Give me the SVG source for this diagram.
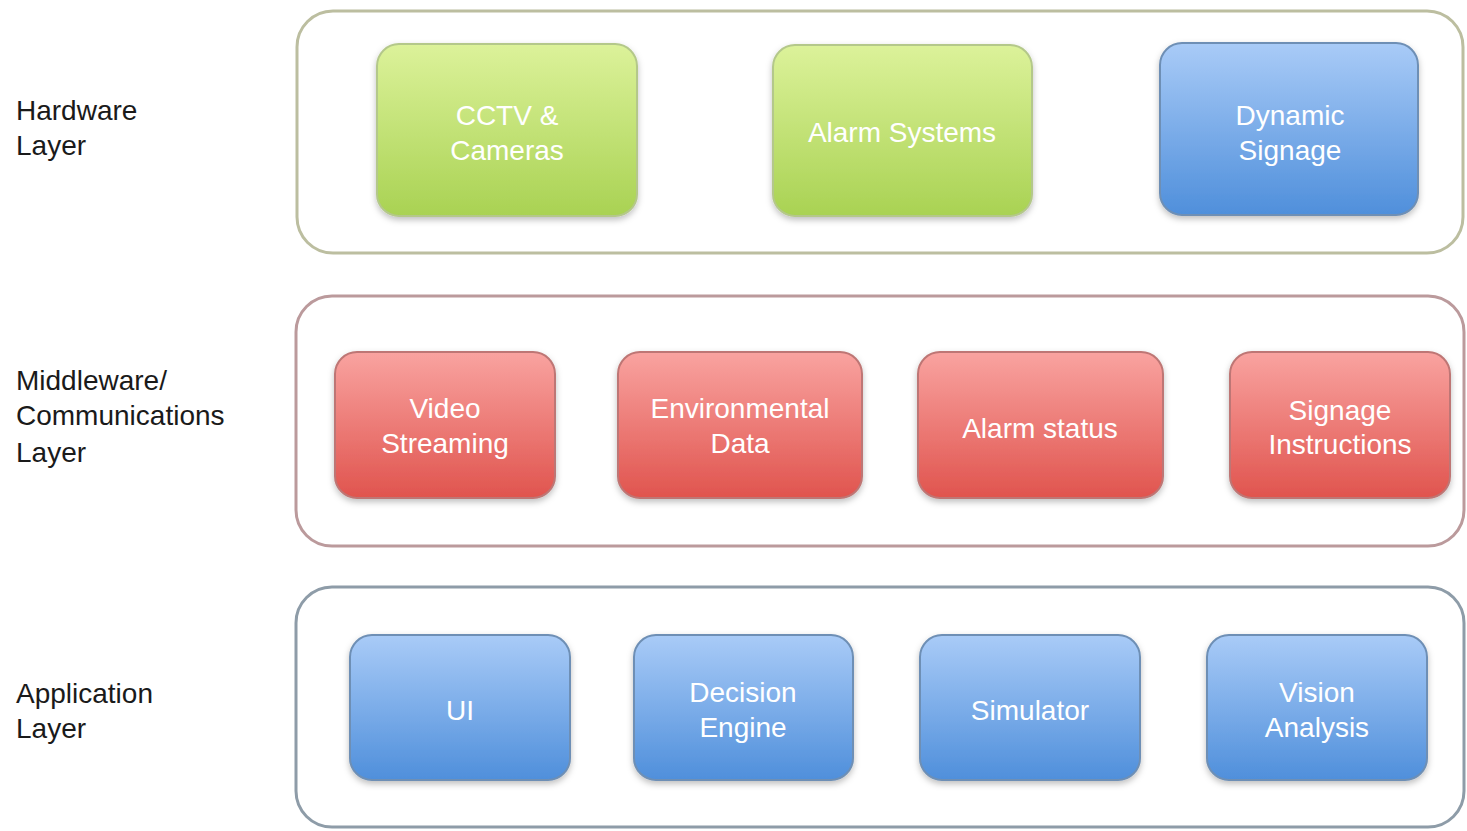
<svg xmlns="http://www.w3.org/2000/svg" width="1467" height="831" viewBox="0 0 1467 831">
<defs>
<linearGradient id="gGreen" x1="0" y1="0" x2="0" y2="1">
<stop offset="0" stop-color="#dcf29a"/><stop offset="1" stop-color="#a9d253"/>
</linearGradient>
<linearGradient id="gBlue" x1="0" y1="0" x2="0" y2="1">
<stop offset="0" stop-color="#a9cbf7"/><stop offset="1" stop-color="#4f8fdb"/>
</linearGradient>
<linearGradient id="gRed" x1="0" y1="0" x2="0" y2="1">
<stop offset="0" stop-color="#f9a3a0"/><stop offset="1" stop-color="#e0544e"/>
</linearGradient>
<filter id="shadow" x="-10%" y="-10%" width="120%" height="130%">
<feDropShadow dx="0" dy="3" stdDeviation="3" flood-color="#000" flood-opacity="0.25"/>
</filter>
</defs>
<style>
.layer{fill:#fff;stroke-width:3}
.hw{stroke:#bcbea0}
.mw{stroke:#bb9a9c}
.app{stroke:#8e9ca8}
.box{stroke-width:2;filter:url(#shadow)}
.green{fill:url(#gGreen);stroke:#b4c88a}
.blue{fill:url(#gBlue);stroke:#6e8fb5}
.red{fill:url(#gRed);stroke:#be7674}
.lbl{font-family:"Liberation Sans",Arial,sans-serif;font-size:28px;fill:#1a1a1a}
.t{font-family:"Liberation Sans",Arial,sans-serif;font-size:28px;fill:#ffffff;text-anchor:middle}
</style>
<rect width="1467" height="831" fill="#ffffff"/>

<g id="labels">
<text class="lbl" x="16" y="120">Hardware</text>
<text class="lbl" x="16" y="155">Layer</text>
<text class="lbl" x="16" y="390">Middleware/</text>
<text class="lbl" x="16" y="425">Communications</text>
<text class="lbl" x="16" y="462">Layer</text>
<text class="lbl" x="16" y="703">Application</text>
<text class="lbl" x="16" y="738">Layer</text>
</g>

<g id="hardware-layer">
<rect class="layer hw" x="297" y="11" width="1166" height="242" rx="36"/>
</g>
<g id="middleware-layer">
<rect class="layer mw" x="296" y="296" width="1168" height="250" rx="36"/>
</g>
<g id="application-layer">
<rect class="layer app" x="296" y="587" width="1168" height="240" rx="36"/>
</g>

<g id="cctv">
<rect class="box green" x="377" y="44" width="260" height="172" rx="22"/>
<text class="t" x="507" y="125">CCTV &amp;</text>
<text class="t" x="507" y="160">Cameras</text>
</g>
<g id="alarm-systems">
<rect class="box green" x="773" y="45" width="259" height="171" rx="22"/>
<text class="t" x="902" y="142">Alarm Systems</text>
</g>
<g id="dynamic-signage">
<rect class="box blue" x="1160" y="43" width="258" height="172" rx="22"/>
<text class="t" x="1290" y="125">Dynamic</text>
<text class="t" x="1290" y="160">Signage</text>
</g>

<g id="video-streaming">
<rect class="box red" x="335" y="352" width="220" height="146" rx="22"/>
<text class="t" x="445" y="418">Video</text>
<text class="t" x="445" y="453">Streaming</text>
</g>
<g id="environmental-data">
<rect class="box red" x="618" y="352" width="244" height="146" rx="22"/>
<text class="t" x="740" y="418">Environmental</text>
<text class="t" x="740" y="453">Data</text>
</g>
<g id="alarm-status">
<rect class="box red" x="918" y="352" width="245" height="146" rx="22"/>
<text class="t" x="1040" y="438">Alarm status</text>
</g>
<g id="signage-instructions">
<rect class="box red" x="1230" y="352" width="220" height="146" rx="22"/>
<text class="t" x="1340" y="420">Signage</text>
<text class="t" x="1340" y="454">Instructions</text>
</g>

<g id="ui">
<rect class="box blue" x="350" y="635" width="220" height="145" rx="22"/>
<text class="t" x="460" y="720">UI</text>
</g>
<g id="decision-engine">
<rect class="box blue" x="634" y="635" width="219" height="145" rx="22"/>
<text class="t" x="743" y="702">Decision</text>
<text class="t" x="743" y="737">Engine</text>
</g>
<g id="simulator">
<rect class="box blue" x="920" y="635" width="220" height="145" rx="22"/>
<text class="t" x="1030" y="720">Simulator</text>
</g>
<g id="vision-analysis">
<rect class="box blue" x="1207" y="635" width="220" height="145" rx="22"/>
<text class="t" x="1317" y="702">Vision</text>
<text class="t" x="1317" y="737">Analysis</text>
</g>

<g id="connectors"/>
</svg>
